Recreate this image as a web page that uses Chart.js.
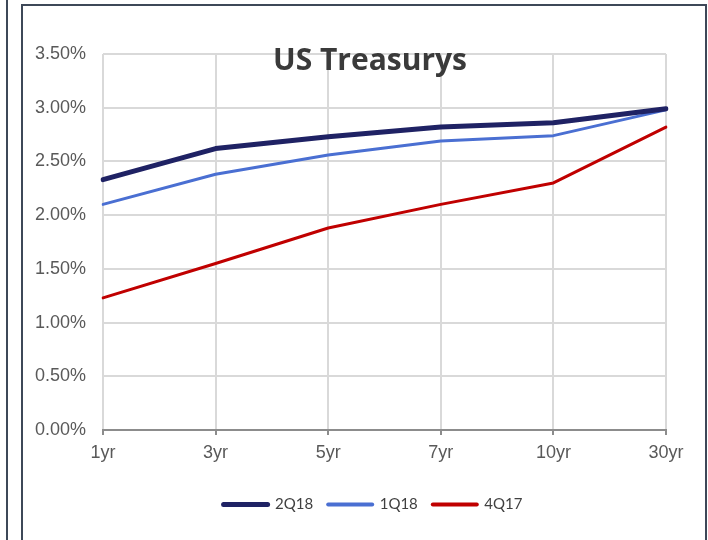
<!DOCTYPE html>
<html>
<head>
<meta charset="utf-8">
<script src="https://cdn.jsdelivr.net/npm/chart.js@4.4.0/dist/chart.umd.min.js"></script>
<style>
  html, body { margin: 0; padding: 0; background: #fff; }
  body { width: 708px; height: 540px; position: relative; overflow: hidden; }
  #wrap { position: absolute; left: 0; top: 0; width: 708px; height: 540px; }
  .frameLeft { position: absolute; left: 6px; top: -2px; width: 0; height: 560px; border-left: 2px solid #3e4858; }
  .frameBox { position: absolute; left: 21px; top: 4px; width: 682px; height: 560px; border: 2px solid #3e4858; pointer-events: none; }
</style>
</head>
<body>
<div class="frameLeft"></div>
<div class="frameBox"></div>
<div id="wrap"><canvas id="c" width="708" height="540"></canvas></div>
<script>
const chartTitle = "US Treasurys";
const maturities = ["1yr", "3yr", "5yr", "7yr", "10yr", "30yr"];
const seriesNames = ["2Q18", "1Q18", "4Q17"];
const yields2Q18 = [2.33, 2.62, 2.73, 2.82, 2.86, 2.99];
const yields1Q18 = [2.10, 2.38, 2.56, 2.69, 2.74, 2.98];
const yields4Q17 = [1.23, 1.55, 1.88, 2.10, 2.30, 2.82];
const yTickMin = 0, yTickMax = 3.5, yTickStep = 0.5;

const titlePlugin = {
  id: 'overlayTitle',
  afterLayout(chart) {
    // centre the legend under the chart box rather than the canvas
    if (chart.legend) { chart.legend.left += 26; chart.legend.right += 26; }
  },
  afterDraw(chart) {
    const ctx = chart.ctx;
    ctx.save();
    ctx.font = 'bold 30px "Open Sans", Lato, sans-serif';
    ctx.fillStyle = '#3a3a3a';
    ctx.textAlign = 'center';
    ctx.textBaseline = 'middle';
    ctx.fillText(chartTitle, 370, 61);
    ctx.restore();
  }
};

new Chart(document.getElementById('c'), {
  type: 'line',
  data: {
    labels: maturities,
    datasets: [
      { label: seriesNames[0], data: yields2Q18, borderColor: '#1f2264', backgroundColor: '#1f2264', borderWidth: 5 },
      { label: seriesNames[1], data: yields1Q18, borderColor: '#4a6fd2', backgroundColor: '#4a6fd2', borderWidth: 3 },
      { label: seriesNames[2], data: yields4Q17, borderColor: '#c00000', backgroundColor: '#c00000', borderWidth: 3 }
    ]
  },
  options: {
    responsive: false,
    animation: false,
    devicePixelRatio: 1,
    elements: { point: { radius: 0, hoverRadius: 0 }, line: { tension: 0, borderCapStyle: 'round', borderJoinStyle: 'round' } },
    layout: { padding: { left: 28, right: 42, top: 54, bottom: 18 } },
    plugins: {
      tooltip: { enabled: false },
      title: { display: false },
      legend: {
        position: 'bottom',
        align: 'center',
        labels: {
          usePointStyle: true,
          pointStyle: 'line',
          pointStyleWidth: 44,
          padding: 15,
          color: '#404040',
          font: { family: 'Lato, "Open Sans", sans-serif', size: 15 },
          generateLabels(chart) {
            return chart.data.datasets.map((ds, i) => ({
              text: ds.label,
              strokeStyle: ds.borderColor,
              fillStyle: ds.borderColor,
              lineWidth: Math.max(4, ds.borderWidth),
              lineCap: 'round',
              pointStyle: 'line',
              fontColor: '#404040',
              datasetIndex: i,
              hidden: false
            }));
          }
        }
      }
    },
    scales: {
      x: {
        type: 'category',
        offset: false,
        grid: { color: '#d9d9d9', lineWidth: 2, tickLength: 5, tickColor: '#8c8c8c', tickWidth: 2 },
        border: { color: '#8c8c8c', width: 2 },
        ticks: { color: '#595959', font: { family: '"Liberation Sans", Arial, sans-serif', size: 18 }, padding: 7, maxRotation: 0 },
        afterFit(scale) { scale.height = 52; }
      },
      y: {
        min: yTickMin,
        max: yTickMax,
        grid: { color: '#d9d9d9', lineWidth: 2, drawTicks: false },
        border: { display: false },
        ticks: {
          stepSize: yTickStep,
          color: '#595959',
          padding: 17,
          font: { family: '"Liberation Sans", Arial, sans-serif', size: 18 },
          callback: v => v.toFixed(2) + '%'
        },
        afterFit(scale) { scale.width = 75; }
      }
    }
  },
  plugins: [titlePlugin]
});
</script>
</body>
</html>
